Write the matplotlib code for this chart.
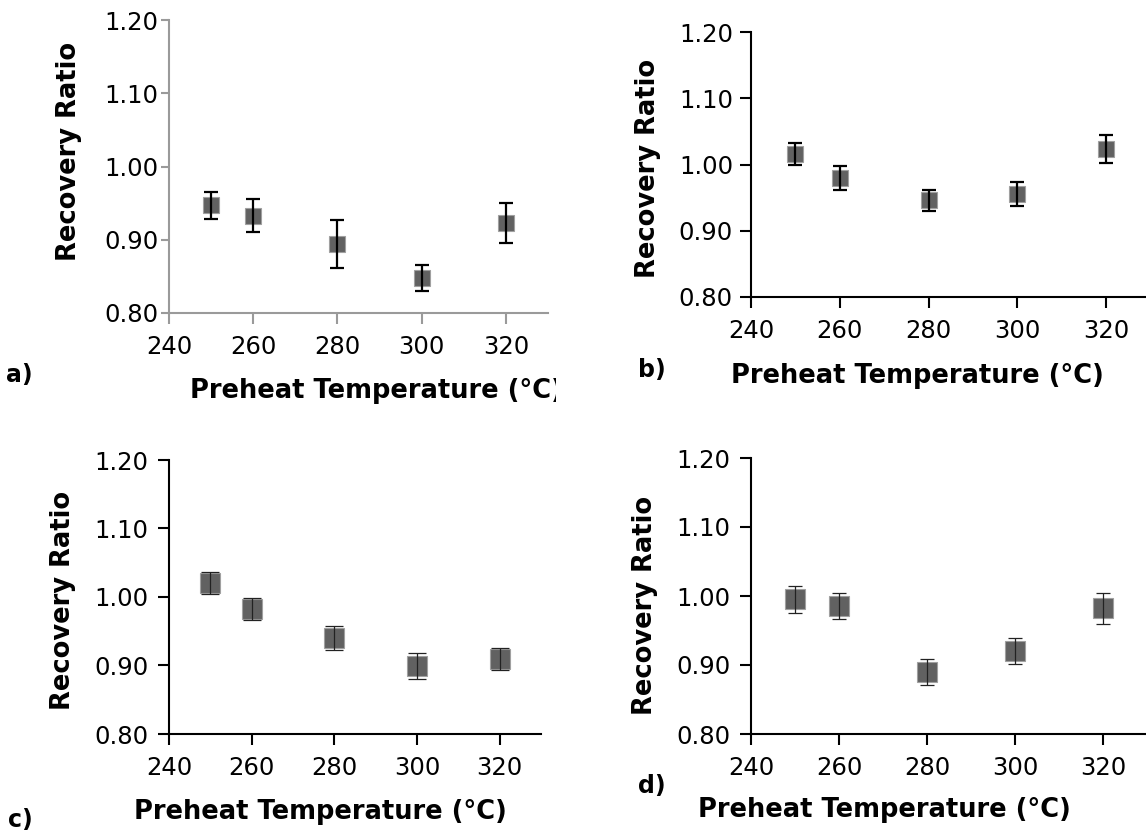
import matplotlib
matplotlib.use("Agg")
import matplotlib.pyplot as plt
from matplotlib.transforms import Bbox, TransformedBbox

# Preheat temperatures (deg C)
temps = [250, 260, 280, 300, 320]

# Recovery ratios and error bars for each panel
a_vals = [0.947, 0.933, 0.894, 0.848, 0.923]
a_err = [0.018, 0.022, 0.033, 0.018, 0.027]
b_vals = [1.016, 0.980, 0.946, 0.956, 1.024]
b_err = [0.016, 0.018, 0.016, 0.018, 0.021]
c_vals = [1.020, 0.983, 0.940, 0.899, 0.909]
c_err = [0.016, 0.016, 0.017, 0.019, 0.016]
d_vals = [0.995, 0.986, 0.890, 0.920, 0.982]
d_err = [0.019, 0.019, 0.019, 0.019, 0.022]

x_ticks = [240, 260, 280, 300, 320]
y_ticks = [0.80, 0.90, 1.00, 1.10, 1.20]
y_ticklabels = ["0.80", "0.90", "1.00", "1.10", "1.20"]

W, H = 1146, 834
fig = plt.figure(figsize=(W / 100, H / 100), dpi=100)


def px_axes(left, top, right, bottom):
    return fig.add_axes([left / W, (H - bottom) / H, (right - left) / W, (bottom - top) / H])


def ftext(x, y, s, **kw):
    return fig.text(x / W, (H - y) / H, s, **kw)


def draw_panel(ax, vals, errs, xmax, spine_col, msize, elw, ecap, ecol, ylen, ypad):
    ax.plot(temps, vals, linestyle="none", marker="s", markersize=msize,
            color="#616161", markeredgecolor="#a0a0a0", markeredgewidth=0.8, zorder=2)
    ax.errorbar(temps, vals, yerr=errs, fmt="none", ecolor=ecol,
                elinewidth=elw, capsize=ecap, capthick=elw, zorder=3)
    ax.set_xlim(240, xmax)
    ax.set_ylim(0.80, 1.20)
    ax.set_xticks(x_ticks)
    ax.set_yticks(y_ticks)
    ax.set_yticklabels(y_ticklabels)
    for s in ["top", "right"]:
        ax.spines[s].set_visible(False)
    for s in ["left", "bottom"]:
        ax.spines[s].set_color(spine_col)
        ax.spines[s].set_linewidth(1.5)
        ax.spines[s].set_clip_on(False)
    ax.tick_params(axis="both", direction="out", width=1.5,
                   color=spine_col, labelsize=17.5, labelcolor="black")
    ax.tick_params(axis="x", length=8, pad=8)
    ax.tick_params(axis="y", length=ylen, pad=ypad)
    ax.patch.set_alpha(0)


ax_a = px_axes(169, 20, 548, 313)
draw_panel(ax_a, a_vals, a_err, 330, "#9a9a9a", 11, 1.6, 5, "black", 6, 1.5)
ax_b = px_axes(751, 32, 1146, 297)
draw_panel(ax_b, b_vals, b_err, 329, "black", 11, 1.6, 5, "black", 8, 5)
ax_c = px_axes(169, 460, 541, 734)
draw_panel(ax_c, c_vals, c_err, 330, "black", 14, 0.9, 6.5, "#222222", 8, 7)
ax_d = px_axes(751, 458, 1146, 734)
draw_panel(ax_d, d_vals, d_err, 329.8, "black", 14, 0.9, 5, "#222222", 8, 7)

lab = dict(fontsize=18.5, fontweight="bold", ha="center", va="center")

# y labels
ftext(69, 151, "Recovery Ratio", rotation=90, **lab)
ftext(648, 168, "Recovery Ratio", rotation=90, **lab)
ftext(63, 600, "Recovery Ratio", rotation=90, **lab)
ftext(645, 605, "Recovery Ratio", rotation=90, **lab)

# x labels (panel a is cut at its right edge in the original)
t_a = ftext(376, 391, "Preheat Temperature (°C)", **lab)
t_a.set_clip_box(TransformedBbox(Bbox([[0, 0], [556 / W, 1]]), fig.transFigure))
t_a.set_clip_on(True)
ftext(917, 376, "Preheat Temperature (°C)", **lab)
ftext(320, 812, "Preheat Temperature (°C)", **lab)
ftext(884, 810, "Preheat Temperature (°C)", **lab)

# panel letters
pl = dict(fontsize=17, fontweight="bold", ha="center", va="center")
ftext(19, 375, "a)", **pl)
ftext(652, 370, "b)", **pl)
ftext(20, 820, "c)", **pl)
ftext(652, 786, "d)", **pl)

fig.savefig("out.png", dpi=100, facecolor="white")
